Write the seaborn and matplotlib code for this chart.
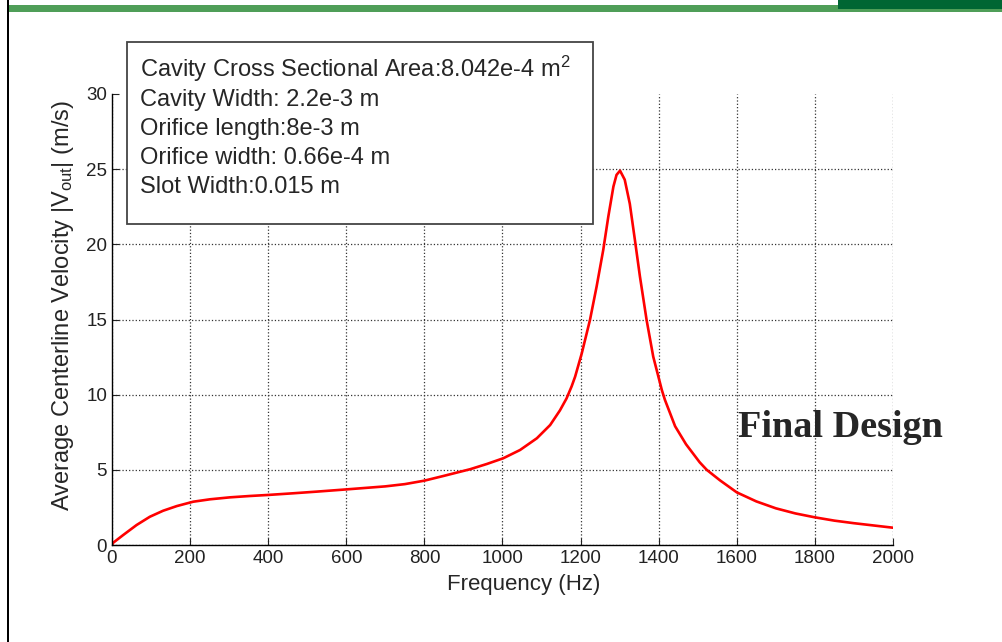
import numpy as np
import pandas as pd
import matplotlib
matplotlib.use('Agg')
import matplotlib.pyplot as plt
import seaborn as sns
from matplotlib.patches import Rectangle

# values
freq = [0, 3, 29, 63, 97, 131, 166, 208, 251, 302, 353, 400, 464, 524, 601,
        700, 750, 800, 850, 917, 960, 1002, 1045, 1088, 1122, 1147, 1164, 1177,
        1186, 1203, 1224, 1241, 1258, 1271, 1284, 1292, 1301, 1313, 1326, 1339,
        1352, 1369, 1386, 1408, 1416, 1442, 1470, 1505, 1523, 1557, 1600, 1650,
        1700, 1750, 1800, 1850, 1900, 1950, 2000]
vel = [0.0, 0.15, 0.67, 1.33, 1.88, 2.28, 2.59, 2.88, 3.04, 3.17, 3.26, 3.33, 3.44, 3.55, 3.7,
       3.9, 4.05, 4.28, 4.6, 5.04, 5.39, 5.77, 6.32, 7.1, 7.98, 8.95, 9.75, 10.55,
       11.2, 12.75, 14.97, 17.19, 19.63, 21.85, 23.84, 24.62, 24.9, 24.3, 22.7, 20.3,
       17.85, 14.97, 12.53, 10.31, 9.65, 7.9, 6.7, 5.5, 5.0, 4.3, 3.5, 2.9,
       2.44, 2.1, 1.84, 1.62, 1.45, 1.3, 1.15]

xticks = [0, 200, 400, 600, 800, 1000, 1200, 1400, 1600, 1800, 2000]
yticks = [0, 5, 10, 15, 20, 25, 30]

info_lines = ['Cavity Cross Sectional Area:8.042e-4 m$^2$',
              'Cavity Width: 2.2e-3 m',
              'Orifice length:8e-3 m',
              'Orifice width: 0.66e-4 m',
              'Slot Width:0.015 m']

sns.set_style('white')
plt.rcParams['font.family'] = ['Liberation Sans', 'DejaVu Sans']
plt.rcParams['mathtext.fontset'] = 'custom'
plt.rcParams['mathtext.rm'] = 'Liberation Sans'
plt.rcParams['mathtext.it'] = 'Liberation Sans'

df = pd.DataFrame({'f': freq, 'v': vel})

fig = plt.figure(figsize=(10.03, 6.42), dpi=100)
ax = fig.add_axes([112 / 1003, 1 - 545 / 642, 781 / 1003, 451 / 642])

sns.lineplot(data=df, x='f', y='v', color='#ff0000', linewidth=1.9, ax=ax)

ax.set_xlim(0, 2000)
ax.set_ylim(0, 30)
ax.set_xticks(xticks)
ax.set_yticks(yticks)
ax.tick_params(direction='in', length=5, width=0.8, labelsize=13.5, colors='#222222',
               left=True, bottom=True)
ax.grid(True, linestyle=':', color='#333333', linewidth=0.9)
ax.yaxis.get_gridlines()[-1].set_visible(False)

for s in ['top', 'right']:
    ax.spines[s].set_visible(False)
for s in ['left', 'bottom']:
    ax.spines[s].set_color('black')
    ax.spines[s].set_linewidth(1.0)

ax.set_xlabel('Frequency (Hz)', fontsize=16)
ax.set_ylabel(r'Average Centerline Velocity $|\mathrm{V}_{\mathrm{out}}|$ (m/s)', fontsize=17)
ax.xaxis.set_label_coords(0.5275, -0.064)
ax.yaxis.set_label_coords(-0.046, 0.53)

# info box
fig.patches.append(Rectangle((127 / 1003, 1 - 224 / 642), 466 / 1003, 182 / 642,
                             transform=fig.transFigure, facecolor='white',
                             edgecolor='#444444', linewidth=1.3, zorder=5))
for i, line in enumerate(info_lines):
    fig.text(140 / 1003, 1 - (77 + 29 * i) / 642, line, fontsize=17,
             ha='left', va='baseline', zorder=6)

fig.text(738 / 1003, 1 - 437 / 642, 'Final Design', fontsize=27.5, fontweight='bold',
         family='Liberation Serif', ha='left', va='baseline')

# slide decoration
fig.patches.append(Rectangle((8 / 1003, 1 - 12 / 642), 995 / 1003, 7 / 642,
                             transform=fig.transFigure, facecolor='#4f9e58',
                             edgecolor='none'))
fig.patches.append(Rectangle((838 / 1003, 1 - 9 / 642), 165 / 1003, 9 / 642,
                             transform=fig.transFigure, facecolor='#006633',
                             edgecolor='none'))
fig.patches.append(Rectangle((7 / 1003, 0), 2 / 1003, 1,
                             transform=fig.transFigure, facecolor='black',
                             edgecolor='none'))

fig.savefig('out.png', dpi=100)
